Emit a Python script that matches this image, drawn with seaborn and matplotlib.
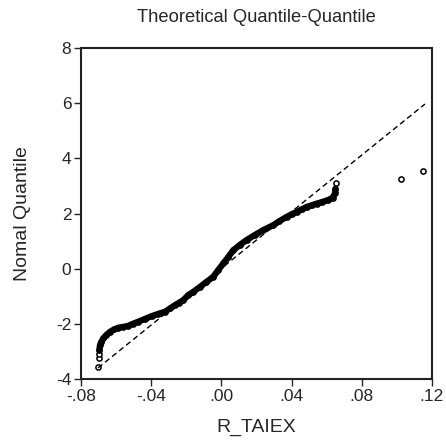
import matplotlib
matplotlib.use("Agg")
import matplotlib.pyplot as plt
import pandas as pd
import seaborn as sns

# sorted R_TAIEX values (x) against normal quantiles (y)
r_taiex = [-0.0701, -0.0700, -0.0698, -0.0695, -0.0692, -0.0684, -0.0673, -0.0655,
           -0.0635, -0.0610, -0.0587, -0.0560, -0.0534, -0.0505, -0.0473, -0.0435,
           -0.0397, -0.0360, -0.0321, -0.0292, -0.0264, -0.0240, -0.0217, -0.0189,
           -0.0160, -0.0122, -0.0085, -0.0046, -0.0018, 0.0011, 0.0040, 0.0068,
           0.0105, 0.0144, 0.0190, 0.0239, 0.0296, 0.0330, 0.0372, 0.0400,
           0.0429, 0.0458, 0.0486, 0.0515, 0.0543, 0.0575, 0.0609, 0.0635,
           0.0647, 0.0650, 0.0651]
normal_q = [-3.55, -3.23, -3.10, -2.95, -2.77, -2.65, -2.53, -2.40,
            -2.29, -2.20, -2.14, -2.11, -2.08, -2.00, -1.92, -1.82,
            -1.72, -1.64, -1.56, -1.44, -1.32, -1.23, -1.14, -0.96,
            -0.84, -0.66, -0.48, -0.29, -0.05, 0.19, 0.43, 0.67,
            0.86, 1.04, 1.22, 1.40, 1.58, 1.72, 1.88, 1.97,
            2.06, 2.15, 2.24, 2.30, 2.36, 2.42, 2.49, 2.58,
            2.73, 2.90, 3.09]
outlier_x = [0.1023, 0.1149]
outlier_y = [3.25, 3.54]

# reference line
ref_x = [-0.0703, 0.116]
ref_y = [-3.60, 5.97]

sns.set_style("white")
plt.rcParams["font.family"] = ["Liberation Sans", "DejaVu Sans"]

df = pd.DataFrame({"x": r_taiex, "y": normal_q})
out = pd.DataFrame({"x": outlier_x, "y": outlier_y})
ref = pd.DataFrame({"x": ref_x, "y": ref_y})

fig = plt.figure(figsize=(4.46, 4.43), dpi=100)
ax = fig.add_axes([0.1816, 0.1445, 0.787, 0.747])

sns.lineplot(data=ref, x="x", y="y", color="black", lw=1.0, linestyle=(0, (4, 2.5)), ax=ax)
# dense body of the sample drawn as a thick band
sns.lineplot(data=df.iloc[3:-1], x="x", y="y", sort=False, color="black", lw=4.5,
             solid_capstyle="round", ax=ax)
sns.scatterplot(data=df, x="x", y="y", marker="o", s=14, facecolor="white",
                edgecolor="black", linewidth=1.1, ax=ax)
sns.scatterplot(data=out, x="x", y="y", marker="o", s=14, facecolor="white",
                edgecolor="black", linewidth=1.1, ax=ax)

ax.set_xlim(-0.08, 0.12)
ax.set_ylim(-4, 8)
ax.set_xticks([-0.08, -0.04, 0.0, 0.04, 0.08, 0.12])
ax.set_xticklabels(["-.08", "-.04", ".00", ".04", ".08", ".12"])
ax.set_yticks([-4, -2, 0, 2, 4, 6, 8])
ax.set_yticklabels(["-4", "-2", "0", "2", "4", "6", "8"])
ax.tick_params(axis="both", direction="out", length=5, width=1, labelsize=12.5,
               bottom=True, left=True, top=False, right=False, pad=2)
for s in ax.spines.values():
    s.set_linewidth(1.5)
    s.set_color("#222222")

ax.set_title("Theoretical Quantile-Quantile", fontsize=13.2, pad=19)
ax.set_xlabel("R_TAIEX", fontsize=14, labelpad=11)
ax.set_ylabel("Nomal Quantile", fontsize=14, labelpad=18)

fig.savefig("out.png", dpi=100)
